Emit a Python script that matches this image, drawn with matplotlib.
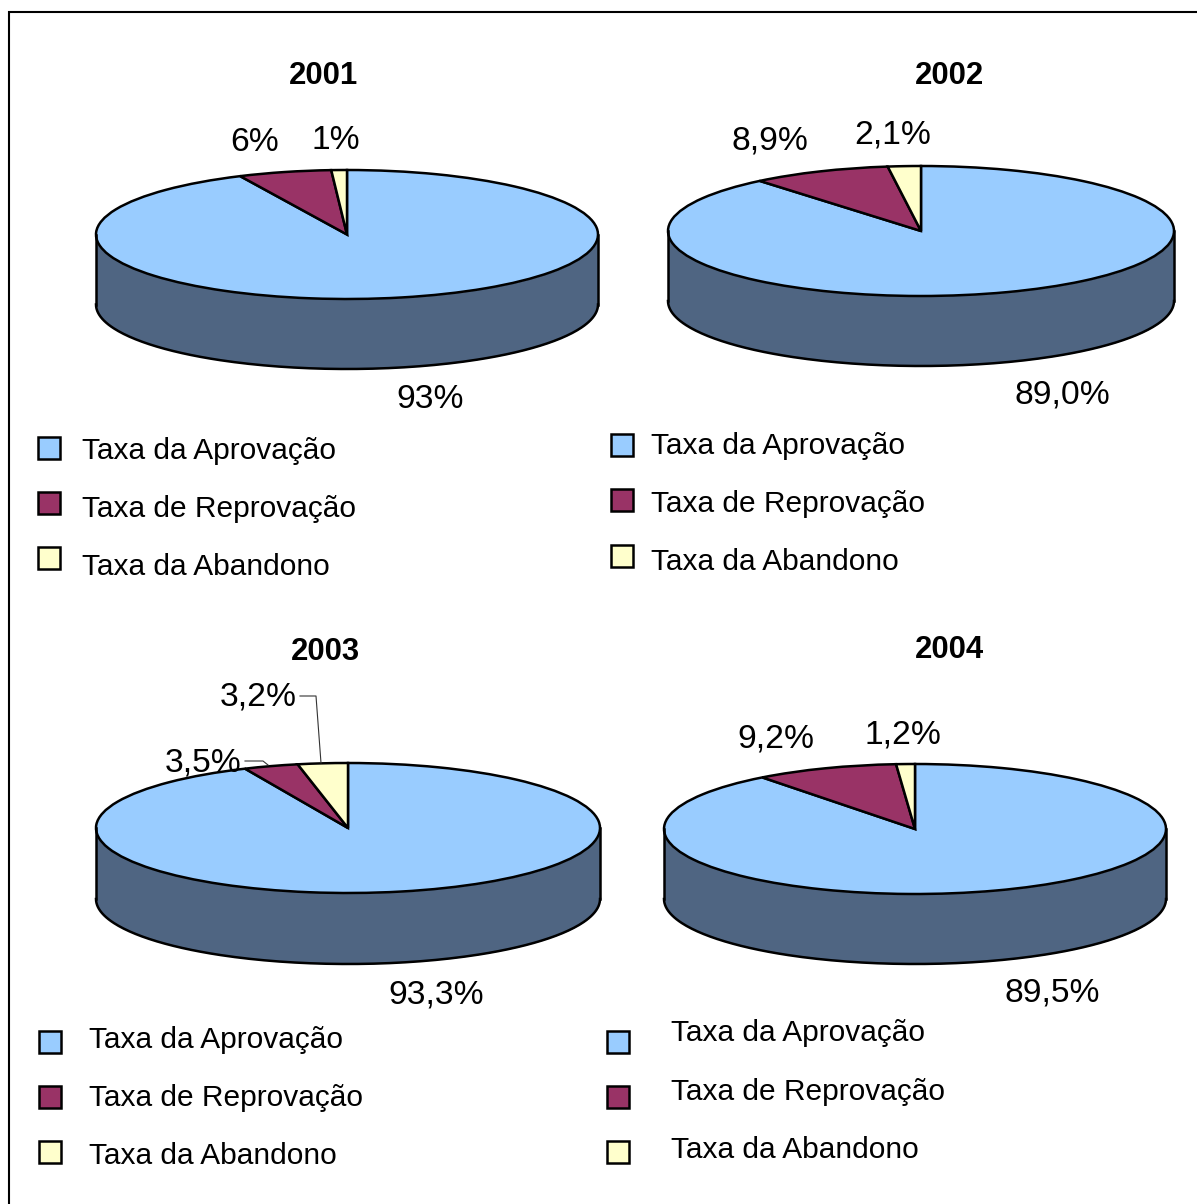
import numpy as np
import matplotlib
matplotlib.use("Agg")
import matplotlib.pyplot as plt
from matplotlib.patches import Rectangle
from matplotlib.lines import Line2D

plt.rcParams["font.family"] = ["Liberation Sans", "DejaVu Sans"]

# Data
years = ["2001", "2002", "2003", "2004"]
aprovacao = [93, 89.0, 93.3, 89.5]
reprovacao = [6, 8.9, 3.5, 9.2]
abandono = [1, 2.1, 3.2, 1.2]
labels_aprovacao = ["93%", "89,0%", "93,3%", "89,5%"]
labels_reprovacao = ["6%", "8,9%", "3,5%", "9,2%"]
labels_abandono = ["1%", "2,1%", "3,2%", "1,2%"]
categories = ["Taxa da Aprovação", "Taxa de Reprovação", "Taxa da Abandono"]

# Colours
colors = ["#99CCFF", "#993366", "#FFFFCC"]
side_color = "#4F6582"

W, H = 1197, 1204
LW = 1.8

# Layout in pixels of the reference
pie_boxes = [(96, 598, 170, 299, 369), (668, 1174, 166, 296, 366),
             (96, 600, 763, 893, 964), (664, 1166, 764, 894, 964)]
title_pos = [(324, 76.5), (949, 76.5), (325, 652.5), (949, 649.5)]
apr_pos = [(430, 399.5), (1062, 394.5), (436, 994.5), (1052.5, 993.5)]
rep_pos = [(255, 142.5), (770, 141.5), (203, 762.5), (775.5, 739.5)]
aba_pos = [(336, 140.5), (893, 135.5), (258, 696.5), (903, 734.5)]
marker_x = [38, 611, 39, 607]
marker_y = [(437, 492, 547), (434, 489, 545), (1031, 1086, 1141), (1031, 1086, 1141)]
text_x = [82, 651, 89, 671]
text_y = [(451, 509, 567), (446, 504, 562), (1040, 1098, 1156), (1033, 1092, 1150)]


def fx(x):
    return x / W


def fy(y):
    return 1 - y / H


fig = plt.figure(figsize=(W / 100, H / 100), dpi=100)

# Outer border, open at the right and bottom edges of the picture
fig.add_artist(Rectangle((fx(9), fy(1230)), fx(1200), 1218 / H, fill=False,
                         edgecolor="black", linewidth=1.5,
                         transform=fig.transFigure))

for i, year in enumerate(years):
    left, right, top, bottom, side = pie_boxes[i]
    ax = fig.add_axes([fx(left), fy(side), (right - left) / W, (side - top) / H])
    depth = 2 * (side - bottom) / (bottom - top)

    # Side of the disc
    t = np.linspace(np.pi, 2 * np.pi, 200)
    ax.fill_between(np.cos(t), np.sin(t), np.sin(t) - depth, color=side_color, lw=0)
    ax.plot(np.cos(t), np.sin(t) - depth, color="black", lw=LW, clip_on=False)
    ax.plot([-1, -1], [0, -depth], color="black", lw=LW, clip_on=False)
    ax.plot([1, 1], [0, -depth], color="black", lw=LW, clip_on=False)

    # Top of the disc, squashed by the free aspect
    values = [aprovacao[i], reprovacao[i], abandono[i]]
    wedges, _ = ax.pie(values, colors=colors, startangle=90, counterclock=False,
                       wedgeprops={"edgecolor": "black", "linewidth": LW})
    for w in wedges:
        w.set_clip_on(False)
    ax.set_aspect("auto")
    ax.set_xlim(-1, 1)
    ax.set_ylim(-1 - depth, 1)
    ax.axis("off")

    fig.text(fx(title_pos[i][0]), fy(title_pos[i][1]), year, fontsize=22.4,
             fontweight="bold", ha="center", va="center")
    fig.text(fx(apr_pos[i][0]), fy(apr_pos[i][1]), labels_aprovacao[i],
             fontsize=24.2, ha="center", va="center")
    fig.text(fx(rep_pos[i][0]), fy(rep_pos[i][1]), labels_reprovacao[i],
             fontsize=24.2, ha="center", va="center")
    fig.text(fx(aba_pos[i][0]), fy(aba_pos[i][1]), labels_abandono[i],
             fontsize=24.2, ha="center", va="center")

    # Legend
    for j, cat in enumerate(categories):
        fig.add_artist(Rectangle((fx(marker_x[i]), fy(marker_y[i][j] + 22)),
                                 22 / W, 22 / H, facecolor=colors[j],
                                 edgecolor="black", linewidth=LW,
                                 transform=fig.transFigure))
        fig.text(fx(text_x[i]), fy(text_y[i][j]), cat, fontsize=21.5,
                 ha="left", va="center")

# Leader lines of the 2003 chart
for xs, ys in [((300, 316, 321), (696, 696, 763)), ((245, 263, 268), (761, 761, 765))]:
    fig.add_artist(Line2D([fx(x) for x in xs], [fy(y) for y in ys],
                          color="#333333", linewidth=0.8,
                          transform=fig.transFigure))

fig.savefig("out.png", dpi=100)
